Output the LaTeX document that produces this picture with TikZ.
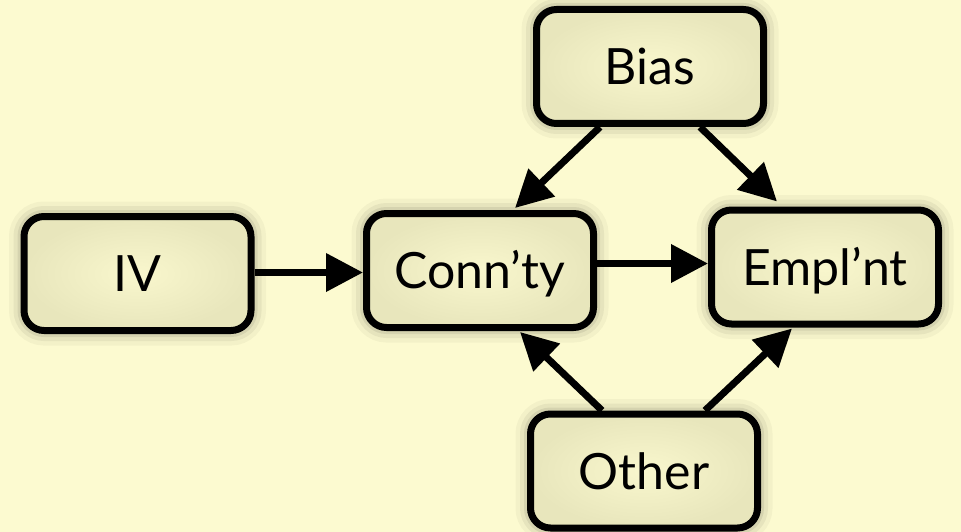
\documentclass[tikz,border=0pt]{standalone}
\usepackage{fontspec}
\setmainfont{Lato}
\usetikzlibrary{arrows.meta,calc}
\definecolor{paper}{HTML}{FCFAD0}
\definecolor{boxmid}{HTML}{F9F7CD}
\definecolor{boxedge}{HTML}{E8E6BC}
\tikzset{
  varbox/.style={
    draw=black, line width=7pt, rounded corners=20pt,
    minimum width=227pt, minimum height=114pt, inner sep=0pt,
    font=\fontsize{50}{54}\selectfont, text height=36pt, text depth=0pt,
    inner color=boxmid, outer color=boxedge,
    preaction={draw=black, draw opacity=0.035, line width=30pt},
    preaction={draw=black, draw opacity=0.05, line width=21pt},
    preaction={draw=black, draw opacity=0.07, line width=13pt}},
  link/.style={draw=black, line width=7pt, -{Triangle[length=37pt,width=37pt]}}
}
\begin{document}
\begin{tikzpicture}[x=1pt,y=-1pt]
  % page
  \fill[paper] (0,0) rectangle (961,532);
  \useasboundingbox (0,0) rectangle (961,532);

  % variables
  \node[varbox] (iv)    at (137.5,273.5) {IV};
  \node[varbox] (conn)  at (480,270.5)   {Conn’ty};
  \node[varbox] (empl)  at (825,267)     {Empl’nt};
  \node[varbox] (bias)  at (650,66.5)    {Bias};
  \node[varbox] (other) at (644,471)     {Other};

  % attachment points along the box edges
  \coordinate (bias-l)  at ($(bias.south)+(-50,0)$);
  \coordinate (bias-r)  at ($(bias.south)+(50,0)$);
  \coordinate (other-l) at ($(other.north)+(-42,0)$);
  \coordinate (other-r) at ($(other.north)+(61,0)$);
  \coordinate (conn-t)  at ($(conn.north)+(35,-2)$);
  \coordinate (conn-b)  at ($(conn.south)+(40,1)$);
  \coordinate (empl-t)  at ($(empl.north)+(-48,-5)$);
  \coordinate (empl-b)  at ($(empl.south)+(-33,1)$);
  \coordinate (iv-r)    at ($(iv.east)+(0,-1)$);
  \coordinate (conn-r)  at ($(conn.east)+(0,-7)$);

  % paths
  \draw[link] (iv-r) -- (iv-r -| conn.west);
  \draw[link] (conn-r) -- (conn-r -| empl.west);
  \draw[link] (bias-l) -- (conn-t);
  \draw[link] (bias-r) -- (empl-t);
  \draw[link] (other-l) -- (conn-b);
  \draw[link] (other-r) -- (empl-b);
\end{tikzpicture}
\end{document}
